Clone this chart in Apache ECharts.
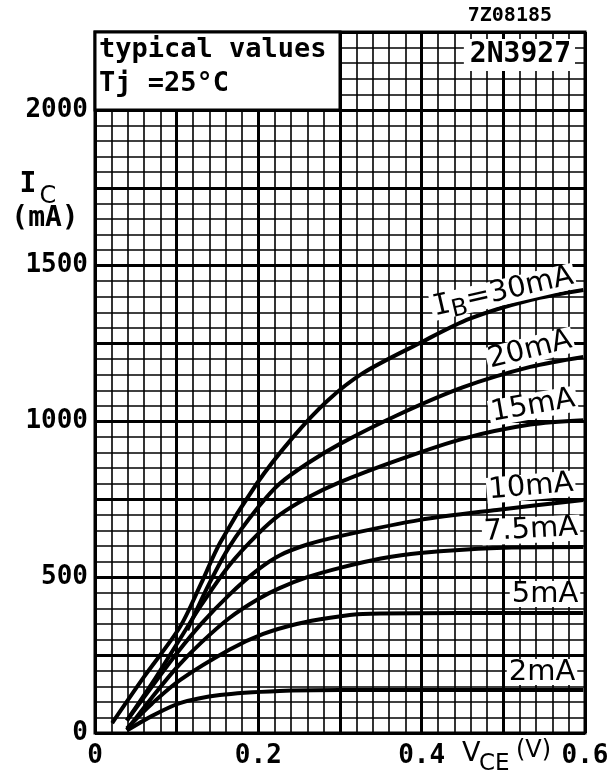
<!DOCTYPE html>
<html><head><meta charset="utf-8">
<script src="https://cdn.jsdelivr.net/npm/echarts@6/dist/echarts.min.js"></script>
<style>html,body{margin:0;padding:0;background:#fff}#c{width:615px;height:778px}</style>
</head><body><div id="c"></div>
<script>
// ---- data (V_CE in volts, I_C in mA) ----
const vce30 = [0.021, 0.060, 0.104, 0.130, 0.153, 0.198, 0.242, 0.284, 0.328, 0.398, 0.459, 0.533, 0.598];
const ic30  = [32, 180, 340, 480, 610, 800, 948, 1065, 1155, 1252, 1330, 1390, 1422];
const vce20 = [0.113, 0.140, 0.165, 0.200, 0.226, 0.260, 0.300, 0.370, 0.451, 0.533, 0.598];
const ic20  = [330, 480, 600, 725, 800, 865, 928, 1020, 1110, 1175, 1207];
const vce15 = [0.039, 0.070, 0.100, 0.130, 0.165, 0.200, 0.226, 0.260, 0.300, 0.370, 0.451, 0.533, 0.598];
const ic15  = [40, 160, 285, 410, 540, 640, 700, 755, 805, 875, 945, 990, 1004];
const vce10 = [0.039, 0.070, 0.100, 0.130, 0.165, 0.200, 0.226, 0.260, 0.300, 0.398, 0.492, 0.598];
const ic10  = [40, 150, 255, 350, 445, 525, 570, 605, 632, 684, 716, 748];
const vce75 = [0.039, 0.070, 0.100, 0.130, 0.165, 0.200, 0.226, 0.260, 0.300, 0.350, 0.398, 0.492, 0.598];
const ic75  = [10, 115, 210, 290, 370, 430, 465, 500, 530, 560, 578, 594, 597];
const vce5  = [0.039, 0.070, 0.104, 0.165, 0.206, 0.247, 0.288, 0.328, 0.450, 0.598];
const ic5   = [15, 95, 170, 268, 318, 350, 370, 382, 385, 385];
const vce2  = [0.039, 0.070, 0.104, 0.153, 0.226, 0.300, 0.450, 0.598];
const ic2   = [8, 55, 96, 122, 135, 138, 138, 138];
const curveNames = ['30mA', '20mA', '15mA', '10mA', '7.5mA', '5mA', '2mA'];
const xTickLabels = ['0', '0.2', '0.4', '0.6'];
const yTickLabels = ['0', '500', '1000', '1500', '2000'];

const curves = [[vce30, ic30], [vce20, ic20], [vce15, ic15], [vce10, ic10], [vce75, ic75], [vce5, ic5], [vce2, ic2]];
const pairs = (xs, ys) => xs.map((x, i) => [x, ys[i]]);

const chart = echarts.init(document.getElementById('c'), null, {renderer: 'canvas'});
const MONO = 'DejaVu Sans Mono';
const SANS = 'DejaVu Sans';

chart.setOption({
  animation: false,
  backgroundColor: '#fff',
  grid: {left: 95, right: 30, top: 32, bottom: 45, show: true, borderColor: '#000', borderWidth: 3, backgroundColor: '#fff'},
  xAxis: {
    type: 'value', min: 0, max: 0.6, interval: 0.1,
    axisLine: {show: false}, axisTick: {show: false},
    axisLabel: {
      color: '#000', fontFamily: MONO, fontWeight: 'bold', fontSize: 26, margin: 10,
      showMinLabel: true, showMaxLabel: true,
      formatter: v => { const s = String(+v.toFixed(1)); return xTickLabels.includes(s) ? s : ''; }
    },
    splitLine: {show: true, lineStyle: {color: '#000', width: 3}},
    minorTick: {show: false, splitNumber: 5},
    minorSplitLine: {show: true, lineStyle: {color: '#000', width: 1.6}}
  },
  yAxis: {
    type: 'value', min: 0, max: 2250, interval: 250,
    axisLine: {show: false}, axisTick: {show: false},
    axisLabel: {
      color: '#000', fontFamily: MONO, fontWeight: 'bold', fontSize: 26, margin: 7,
      formatter: v => yTickLabels.includes(String(v)) ? String(v) : ''
    },
    splitLine: {show: true, lineStyle: {color: '#000', width: 3}},
    minorTick: {show: false, splitNumber: 5},
    minorSplitLine: {show: true, lineStyle: {color: '#000', width: 1.6}}
  },
  series: curves.map((c, i) => ({
    name: curveNames[i], type: 'line', data: pairs(c[0], c[1]),
    showSymbol: false, symbol: 'none', smooth: 0.3,
    lineStyle: {color: '#000', width: 4}, z: 5
  }))
});

// annotation box & texts
const p0 = chart.convertToPixel({gridIndex: 0}, [0, 2250]);
const p1 = chart.convertToPixel({gridIndex: 0}, [0.3, 2000]);
const lbl = (text, x, y, rotDeg) => ({
  type: 'text', x: x, y: y, rotation: (rotDeg || 0) * Math.PI / 180, z: 20,
  style: {text: text, font: `29px "${SANS}"`, fill: '#000', align: 'center', verticalAlign: 'middle',
          backgroundColor: '#fff', padding: [0, 2, 0, 2], lineHeight: 26,
          rich: {i: {fontFamily: MONO, fontSize: 29}, b: {fontFamily: SANS, fontSize: 24, padding: [14, 0, 0, 0]}}}
});
const T = (text, x, y, font, extra) => Object.assign({type: 'text', z: 20, x: x, y: y,
  style: Object.assign({text: text, font: font, fill: '#000', verticalAlign: 'middle'}, extra || {})});
chart.setOption({
  graphic: [
    {type: 'rect', z: 15, shape: {x: p0[0], y: p0[1], width: p1[0] - p0[0], height: p1[1] - p0[1]},
     style: {fill: '#fff', stroke: '#000', lineWidth: 3}},
    T('typical values', 99, 50, `bold 27px "${MONO}"`),
    T('Tj =25°C', 99, 84, `bold 27px "${MONO}"`),
    T('2N3927', 575, 55, `bold 28px "${MONO}"`, {align: 'right', backgroundColor: '#fff', padding: [2, 4, 2, 6]}),
    T('7Z08185', 552, 16, `bold 20px "${MONO}"`, {align: 'right'}),
    T('I', 28, 185, `bold 28px "${MONO}"`, {align: 'center'}),
    T('C', 48, 197, `24px "${SANS}"`, {align: 'center'}),
    T('(mA)', 45, 219, `bold 28px "${MONO}"`, {align: 'center'}),
    T('V', 462, 754, `27px "${SANS}"`),
    T('CE', 479, 764, `23px "${SANS}"`),
    T('(V)', 516, 751, `24px "${SANS}"`),
    lbl('{i|I}{b|B}=30mA', 503, 292, 13),
    lbl('20mA', 530, 350, 14),
    lbl('15mA', 533, 406, 10),
    lbl('10mA', 531, 487, 5),
    lbl('7.5mA', 531, 530, 3),
    lbl('5mA', 545, 594, 0),
    lbl('2mA', 542, 672, 0)
  ]
});
</script></body></html>
